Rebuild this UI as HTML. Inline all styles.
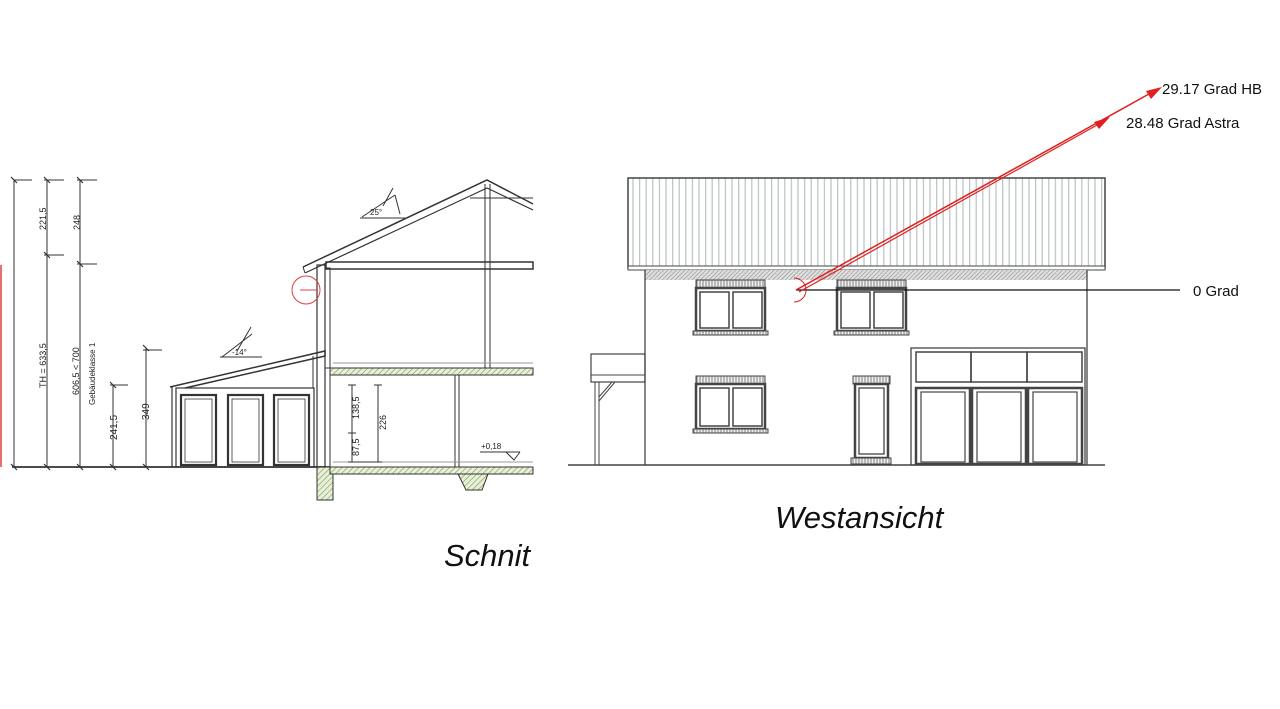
<!DOCTYPE html>
<html><head><meta charset="utf-8"><style>
html,body{margin:0;padding:0;background:#fff;width:1280px;height:709px;overflow:hidden}
svg{display:block}
text{font-family:"Liberation Sans",sans-serif}
</style></head><body>
<svg width="1280" height="709" viewBox="0 0 1280 709" xmlns="http://www.w3.org/2000/svg">
<defs>
<pattern id="stripes" width="6.6" height="10" patternUnits="userSpaceOnUse" x="630">
<rect width="6.6" height="10" fill="#fff"/><line x1="3" y1="0" x2="3" y2="10" stroke="#b8c2c2" stroke-width="1.2"/>
</pattern>
<pattern id="hatch" width="4" height="4" patternUnits="userSpaceOnUse" patternTransform="rotate(45)">
<rect width="4" height="4" fill="#e8f0d8"/><line x1="0" y1="0" x2="0" y2="4" stroke="#7a9a5a" stroke-width="1.2"/>
</pattern>
<pattern id="ghatch" width="3" height="3" patternUnits="userSpaceOnUse" patternTransform="rotate(45)">
<rect width="3" height="3" fill="#ddd"/><line x1="0" y1="0" x2="0" y2="3" stroke="#888" stroke-width="1"/>
</pattern>
<pattern id="sill" width="3" height="5" patternUnits="userSpaceOnUse">
<rect width="3" height="5" fill="#eee"/><line x1="1" y1="0" x2="1" y2="5" stroke="#666" stroke-width="0.8"/>
</pattern>
</defs>

<!-- LEFT: Schnitt -->
<g stroke="#333" stroke-width="1" fill="none">
<line x1="1" y1="265" x2="1" y2="467" stroke="#e04040" stroke-width="1.5"/>
<line x1="14" y1="180" x2="14" y2="467"/>
<line x1="47" y1="180" x2="47" y2="467"/>
<line x1="80" y1="180" x2="80" y2="467"/>
<line x1="113" y1="385" x2="113" y2="467"/>
<line x1="146" y1="348" x2="146" y2="467"/>
<line x1="14" y1="180" x2="32" y2="180"/>
<line x1="44" y1="180" x2="64" y2="180"/>
<line x1="77" y1="180" x2="97" y2="180"/>
<line x1="44" y1="255" x2="64" y2="255"/>
<line x1="77" y1="264" x2="97" y2="264"/>
<line x1="110" y1="385" x2="128" y2="385"/>
<line x1="143" y1="350" x2="162" y2="350"/>
<line x1="12" y1="467" x2="330" y2="467" stroke-width="1.8"/>
<g stroke-width="1.2">
<line x1="11" y1="177" x2="17" y2="183"/><line x1="44" y1="177" x2="50" y2="183"/><line x1="77" y1="177" x2="83" y2="183"/>
<line x1="44" y1="252" x2="50" y2="258"/><line x1="77" y1="261" x2="83" y2="267"/>
<line x1="11" y1="464" x2="17" y2="470"/><line x1="44" y1="464" x2="50" y2="470"/><line x1="77" y1="464" x2="83" y2="470"/><line x1="110" y1="464" x2="116" y2="470"/><line x1="143" y1="464" x2="149" y2="470"/>
<line x1="110" y1="382" x2="116" y2="388"/><line x1="143" y1="345" x2="149" y2="351"/>
</g>
</g>
<g fill="#222" font-size="9">
<text transform="translate(46,230) rotate(-90)">221,5</text>
<text transform="translate(80,230) rotate(-90)">248</text>
<text transform="translate(46,388) rotate(-90)">TH = 633,5</text>
<text transform="translate(79,395) rotate(-90)">606,5 &lt; 700</text>
<text transform="translate(95,405) rotate(-90)" font-size="8">Gebäudeklasse 1</text>
<text transform="translate(117,440) rotate(-90)" font-size="10">241,5</text>
<text transform="translate(149,420) rotate(-90)" font-size="10">349</text>
</g>

<!-- annex -->
<g stroke="#333" fill="none">
<path d="M170,387 L325,351 L325,356 L185,388" stroke-width="1.5"/>
<line x1="172" y1="386" x2="172" y2="467" stroke-width="1.2"/>
<line x1="176" y1="388" x2="176" y2="467"/>
<line x1="313" y1="356" x2="313" y2="388"/>
<rect x="176" y="388" width="138" height="79" stroke-width="1.2"/>
<g stroke-width="2.2">
<rect x="181" y="395" width="35" height="70"/>
<rect x="228" y="395" width="35" height="70"/>
<rect x="274" y="395" width="35" height="70"/>
</g>
<g stroke-width="0.8">
<rect x="185" y="399" width="27" height="63"/>
<rect x="232" y="399" width="27" height="63"/>
<rect x="278" y="399" width="27" height="63"/>
</g>
<path d="M220,357 L262,357 M222,357 L252,334 M251,327 L237,351 " stroke-width="1"/>
</g>
<text x="232" y="355" font-size="8" fill="#222">-14°</text>

<!-- main section -->
<rect x="317" y="467" width="16" height="33" fill="url(#hatch)" stroke="#333"/>
<rect x="330" y="368" width="203" height="7" fill="url(#hatch)" stroke="#333"/>
<rect x="330" y="467" width="203" height="7" fill="url(#hatch)" stroke="#333"/>
<path d="M458,474 L488,474 L482,490 L466,490 Z" fill="url(#hatch)" stroke="#333"/>
<g stroke="#333" fill="none">
<rect x="317" y="265" width="8" height="202" stroke-width="1.2"/>
<rect x="325" y="268" width="5" height="100"/>
<line x1="330" y1="375" x2="330" y2="467"/>
<rect x="326" y="262" width="207" height="7" stroke-width="1.5"/>
<path d="M303,267 L487,180 L533,204" stroke-width="1.5"/>
<path d="M305,273 L487,188 L533,210" stroke-width="1.2"/>
<line x1="303" y1="267" x2="305" y2="273"/>
<line x1="470" y1="198" x2="533" y2="198"/>
<line x1="485" y1="184" x2="485" y2="368"/>
<line x1="490" y1="184" x2="490" y2="368"/>
<line x1="455" y1="375" x2="455" y2="467"/>
<line x1="459" y1="375" x2="459" y2="467"/>
<line x1="333" y1="363" x2="533" y2="363" stroke="#999"/>
<line x1="333" y1="462" x2="533" y2="462" stroke="#999"/>
<path d="M360,218 L405,218 M362,217 L395,195 M393,188 L383,206 M395,195 L400,214" stroke-width="1"/>
<line x1="352" y1="385" x2="352" y2="462"/>
<line x1="378" y1="385" x2="378" y2="462"/>
<line x1="348" y1="385" x2="356" y2="385"/><line x1="374" y1="385" x2="382" y2="385"/>
<line x1="348" y1="433" x2="356" y2="433"/><line x1="348" y1="462" x2="382" y2="462"/>
<line x1="480" y1="452" x2="520" y2="452"/>
<path d="M506,452 L514,460 L520,452" />
<circle cx="306" cy="290" r="14" stroke="#e04040"/>
<line x1="300" y1="290" x2="318" y2="290" stroke="#e04040"/>
</g>
<text x="370" y="215" font-size="8" fill="#222">25°</text>
<g fill="#222" font-size="9">
<text transform="translate(359,419) rotate(-90)">138,5</text>
<text transform="translate(359,456) rotate(-90)">87,5</text>
<text transform="translate(386,430) rotate(-90)">226</text>
<text x="481" y="449" font-size="8">+0,18</text>
</g>
<text x="444" y="566" font-size="31" font-style="italic" fill="#111">Schnit</text>

<!-- RIGHT: Westansicht -->
<rect x="628" y="178" width="477" height="90" fill="url(#stripes)" stroke="#444" stroke-width="1.5"/>
<rect x="628" y="266" width="477" height="4" fill="#fff" stroke="#444"/>
<rect x="645" y="270" width="442" height="10" fill="url(#ghatch)"/>
<g stroke="#444" fill="none">
<line x1="645" y1="270" x2="645" y2="465" stroke-width="1.3"/>
<line x1="1087" y1="270" x2="1087" y2="465" stroke-width="1.3"/>
<line x1="568" y1="465" x2="1105" y2="465" stroke-width="1.5"/>
<rect x="591" y="354" width="54" height="28" stroke-width="1.2"/>
<line x1="591" y1="375" x2="645" y2="375"/>
<line x1="595" y1="382" x2="595" y2="465"/><line x1="599" y1="382" x2="599" y2="465"/>
<line x1="599" y1="397" x2="612" y2="382"/><line x1="599" y1="401" x2="615" y2="382"/>
</g>
<g stroke="#444" fill="none">
<rect x="696" y="280" width="69" height="8" fill="url(#sill)"/>
<rect x="696" y="288" width="69" height="43" stroke-width="2.5"/>
<rect x="700" y="292" width="29" height="36" stroke-width="1.5"/><rect x="733" y="292" width="29" height="36" stroke-width="1.5"/>
<rect x="693" y="331" width="75" height="4" fill="url(#sill)"/>
<rect x="837" y="280" width="69" height="8" fill="url(#sill)"/>
<rect x="837" y="288" width="69" height="43" stroke-width="2.5"/>
<rect x="841" y="292" width="29" height="36" stroke-width="1.5"/><rect x="874" y="292" width="29" height="36" stroke-width="1.5"/>
<rect x="834" y="331" width="75" height="4" fill="url(#sill)"/>
<rect x="696" y="376" width="69" height="8" fill="url(#sill)"/>
<rect x="696" y="384" width="69" height="45" stroke-width="2.5"/>
<rect x="700" y="388" width="29" height="38" stroke-width="1.5"/><rect x="733" y="388" width="29" height="38" stroke-width="1.5"/>
<rect x="693" y="429" width="75" height="4" fill="url(#sill)"/>
<rect x="853" y="376" width="37" height="8" fill="url(#sill)"/>
<rect x="855" y="384" width="33" height="74" stroke-width="2.5"/>
<rect x="859" y="388" width="25" height="66" stroke-width="1.3"/>
<rect x="851" y="458" width="40" height="6" fill="url(#sill)"/>
<rect x="911" y="348" width="174" height="117" stroke-width="1.3"/>
<rect x="916" y="352" width="55" height="30" stroke-width="1.5"/>
<rect x="971" y="352" width="56" height="30" stroke-width="1.5"/>
<rect x="1027" y="352" width="55" height="30" stroke-width="1.5"/>
<rect x="916" y="388" width="54" height="76" stroke-width="2.5"/>
<rect x="972" y="388" width="54" height="76" stroke-width="2.5"/>
<rect x="1028" y="388" width="54" height="76" stroke-width="2.5"/>
<rect x="921" y="392" width="44" height="70" stroke-width="1.2"/>
<rect x="977" y="392" width="44" height="70" stroke-width="1.2"/>
<rect x="1033" y="392" width="44" height="70" stroke-width="1.2"/>
</g>

<line x1="796" y1="290" x2="1180" y2="290" stroke="#111" stroke-width="1.3"/>
<path d="M794,278 A12,12 0 0 1 794,302" stroke="#e02020" fill="none" stroke-width="1"/>
<line x1="796" y1="290" x2="1158" y2="89" stroke="#e02020" stroke-width="1.5"/>
<line x1="799" y1="292" x2="1106" y2="120" stroke="#e02020" stroke-width="1.2"/>
<polygon points="1162,87 1146,91 1151,99" fill="#e02020"/>
<polygon points="1110,117 1094,122 1099,129" fill="#e02020"/>
<g fill="#111" font-size="15">
<text x="1162" y="94">29.17 Grad HB</text>
<text x="1126" y="128">28.48 Grad Astra</text>
<text x="1193" y="296">0 Grad</text>
</g>
<text x="775" y="528" font-size="31" font-style="italic" fill="#111">Westansicht</text>
</svg>
</body></html>
